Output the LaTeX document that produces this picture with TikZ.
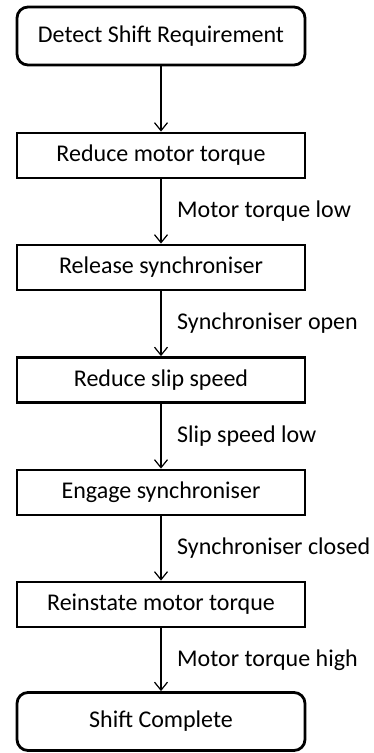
\documentclass[tikz,border=0pt]{standalone}
\usepackage{fontspec}
\setmainfont{Carlito}
\usetikzlibrary{arrows.meta}
\tikzset{
  procbox/.style={draw=black, line width=2.8pt, minimum width=288pt, minimum height=45pt, inner sep=0pt, font=\fontsize{24}{28}\selectfont, anchor=center},
  termbox/.style={procbox, rounded corners=11pt, minimum height=58pt},
  conn/.style={line width=1.2pt, -{Straight Barb[length=8pt,width=13pt,line width=1.2pt]}},
  cond/.style={anchor=west, inner sep=0pt, font=\fontsize{24}{28}\selectfont}
}
\begin{document}
\begin{tikzpicture}[x=1pt,y=-1pt]
\useasboundingbox (0,0) rectangle (374,753);
\node[termbox] (n1) at (161,36) {Detect Shift Requirement};
\node[procbox] (n2) at (161,155.5) {Reduce motor torque};
\node[procbox] (n3) at (161,267.5) {Release synchroniser};
\node[procbox] (n4) at (161,380) {Reduce slip speed};
\node[procbox] (n5) at (161,492.5) {Engage synchroniser};
\node[procbox] (n6) at (161,604.5) {Reinstate motor torque};
\node[termbox] (n7) at (161,721.5) {Shift Complete};
\draw[conn] (n1) -- (n2);
\draw[conn] (n2) -- (n3);
\draw[conn] (n3) -- (n4);
\draw[conn] (n4) -- (n5);
\draw[conn] (n5) -- (n6);
\draw[conn] (n6) -- (n7);
\node[cond] (l2) at (177,211.5) {Motor torque low};
\node[cond] (l3) at (177,323.5) {Synchroniser open};
\node[cond] (l4) at (177,436) {Slip speed low};
\node[cond] (l5) at (177,548.5) {Synchroniser closed};
\node[cond] (l6) at (177,660.5) {Motor torque high};
\end{tikzpicture}
\end{document}
